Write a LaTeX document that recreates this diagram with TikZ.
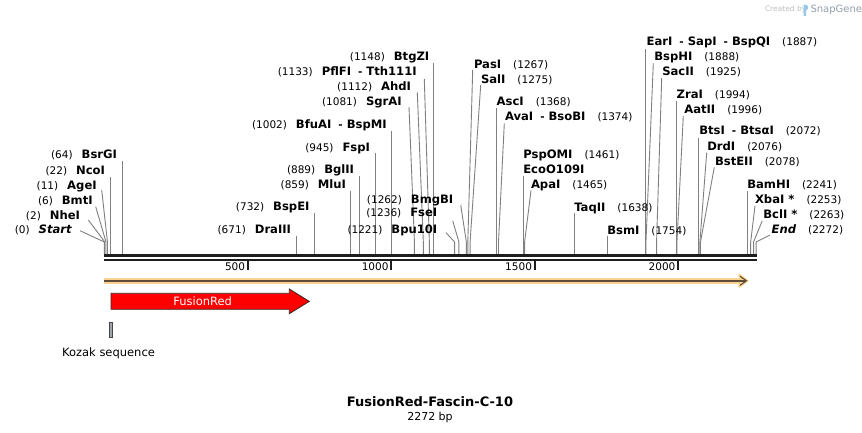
\documentclass[tikz,border=0pt]{standalone}
\usepackage{fontspec}
\setmainfont{DejaVu Sans}
\usetikzlibrary{arrows.meta}
\definecolor{cutgray}{RGB}{128,128,128}
\definecolor{seqblack}{RGB}{30,30,30}
\definecolor{orfband}{RGB}{249,212,145}
\definecolor{orfline}{RGB}{92,76,56}
\definecolor{kozakfill}{RGB}{160,164,171}
\definecolor{kozakline}{RGB}{70,70,70}
\definecolor{redline}{RGB}{60,40,40}
\definecolor{credgray}{RGB}{190,190,190}
\definecolor{snapgray}{RGB}{150,160,170}
\definecolor{logoblue}{RGB}{150,200,235}
\newcommand\enz[1]{{\fontsize{11.6}{13}\selectfont\bfseries #1}}
\newcommand\bpn[1]{{\fontsize{10.5}{12}\selectfont #1}}
\newcommand\ensep{\hspace{7pt}\bpn{-}\hspace{4pt}}
% site with a bent connector: name, bp, start x, start y
\newcommand\dsite[4]{%
  \coordinate (#1s) at (#3,#4);
  \coordinate (#1k) at ({104.3+0.2869*#2},242);
  \coordinate (#1b) at ({104.3+0.2869*#2},254.3);
  \draw[cut] (#1s) -- (#1k) -- (#1b);}
% site with a straight connector: name, bp, start y
\newcommand\vsite[3]{%
  \coordinate (#1s) at ({104.3+0.2869*#2},#3);
  \coordinate (#1b) at ({104.3+0.2869*#2},254.3);
  \draw[cut] (#1s) -- (#1b);}
% labels: name, x, baseline y, bp, enzyme text
\newcommand\llab[5]{\node[lab,anchor=base east] (#1) at (#2,#3) {\bpn{(#4)}\hspace{9pt}\enz{#5}};}
\newcommand\rlab[5]{\node[lab,anchor=base west] (#1) at (#2,#3) {\enz{#5}\hspace{12pt}\bpn{(#4)}};}
\begin{document}
\begin{tikzpicture}[x=1pt,y=-1pt,
  lab/.style={inner sep=0pt,outer sep=0pt},
  cut/.style={draw=cutgray,line width=0.9pt},
  seqline/.style={draw=seqblack,line width=2.6pt},
  tickmark/.style={draw=seqblack,line width=1.8pt},
  ticklab/.style={inner sep=0pt,anchor=base east,font=\fontsize{10.5}{12}\selectfont}]
\useasboundingbox (0,0) rectangle (862,433);
\fill[white] (0,0) rectangle (862,433);

% credit
\node[lab,anchor=base west,text=credgray,font=\fontsize{7.5}{9}\selectfont] (cred) at (765,12) {Created by};
\fill[logoblue] (803.5,16) -- (803.5,4.5) .. controls (808.5,4) and (810,8.5) .. (806.2,10.5) -- (806.2,16) -- cycle;
\node[lab,anchor=base west,text=snapgray,font=\fontsize{10}{12}\selectfont] (snap) at (810.5,12.5) {SnapGene};

% cut site connectors (left side)
\dsite{Start}{0}{80}{230.7}
\dsite{NheI}{2}{88.3}{220}
\dsite{BmtI}{6}{95.7}{206.7}
\dsite{AgeI}{11}{101.7}{190}
\vsite{NcoI}{22}{176.5}
\vsite{BsrGI}{64}{161}
\vsite{DraIII}{671}{235.5}
\vsite{BspEI}{732}{213}
\vsite{MluI}{859}{190.5}
\vsite{BglII}{889}{175.5}
\vsite{FspI}{945}{153.3}
\vsite{BfuAI}{1002}{131}
\dsite{SgrAI}{1081}{409}{107}
\dsite{AhdI}{1112}{417.3}{92.5}
\dsite{PflFI}{1133}{424.3}{79}
\vsite{BtgZI}{1148}{63.3}
\dsite{BpuI}{1221}{446}{232.7}
\dsite{FseI}{1236}{452.7}{220.7}
\dsite{BmgBI}{1262}{460.7}{205}
% (right side)
\dsite{PasI}{1267}{472.7}{70}
\dsite{SalI}{1275}{480.7}{85}
\vsite{AscI}{1368}{108.3}
\dsite{AvaI}{1374}{504.3}{123.3}
\vsite{EcoO}{1461}{176}
\dsite{ApaI}{1465}{531}{190.5}
\vsite{TaqII}{1638}{213.3}
\vsite{BsmI}{1754}{235.7}
\vsite{EarI}{1887}{49}
\dsite{BspHI}{1888}{653.3}{63.3}
\dsite{SacII}{1925}{661.7}{78}
\vsite{ZraI}{1994}{100.7}
\dsite{AatII}{1996}{683.3}{116}
\vsite{BtsI}{2072}{138.3}
\dsite{DrdI}{2076}{706.7}{152.7}
\dsite{BstEII}{2078}{714.3}{167.3}
\vsite{BamHI}{2241}{190.7}
\dsite{XbaI}{2253}{755}{205.7}
\dsite{BclI}{2263}{762.3}{220.7}
\dsite{End}{2272}{770}{235}

% labels (left side)
\llab{lStart}{71.7}{233.3}{0}{\itshape Start}
\llab{lNheI}{80}{219}{2}{NheI}
\llab{lBmtI}{92.7}{204}{6}{BmtI}
\llab{lAgeI}{96.7}{189}{11}{AgeI}
\llab{lNcoI}{105}{174.3}{22}{NcoI}
\llab{lBsrGI}{117}{158}{64}{BsrGI}
\llab{lDraIII}{291}{233.3}{671}{DraIII}
\llab{lBspEI}{309.5}{210.7}{732}{BspEI}
\llab{lMluI}{346}{188.3}{859}{MluI}
\llab{lBglII}{354}{173.3}{889}{BglII}
\llab{lFspI}{370}{151}{945}{FspI}
\llab{lBfuAI}{386.7}{128.3}{1002}{BfuAI\ensep BspMI}
\llab{lSgrAI}{401.7}{105.3}{1081}{SgrAI}
\llab{lAhdI}{411}{90.7}{1112}{AhdI}
\llab{lPflFI}{416.7}{76}{1133}{PflFI\ensep Tth111I}
\llab{lBtgZI}{429.3}{60.7}{1148}{BtgZI}
\llab{lBpuI}{437.3}{233.3}{1221}{Bpu10I}
\llab{lFseI}{437.3}{216.7}{1236}{FseI}
\llab{lBmgBI}{453.3}{203.3}{1262}{BmgBI}
% labels (right side)
\rlab{lPasI}{474}{68.3}{1267}{PasI}
\rlab{lSalI}{481}{83.3}{1275}{SalI}
\rlab{lAscI}{496.7}{105.7}{1368}{AscI}
\rlab{lAvaI}{505}{120.7}{1374}{AvaI\ensep BsoBI}
\rlab{lPspOMI}{523.3}{158.3}{1461}{PspOMI}
\node[lab,anchor=base west] (lEcoO) at (523.3,173.3) {\enz{EcoO109I}};
\rlab{lApaI}{531}{188.3}{1465}{ApaI}
\rlab{lTaqII}{574.3}{211}{1638}{TaqII}
\rlab{lBsmI}{607.3}{234}{1754}{BsmI}
\rlab{lEarI}{646.7}{46}{1887}{EarI\ensep SapI\ensep BspQI}
\rlab{lBspHI}{654.3}{60.7}{1888}{BspHI}
\rlab{lSacII}{662.3}{75.7}{1925}{SacII}
\rlab{lZraI}{676.7}{98.3}{1994}{ZraI}
\rlab{lAatII}{684.3}{113.3}{1996}{AatII}
\rlab{lBtsI}{699.3}{135}{2072}{BtsI\ensep BtsαI}
\rlab{lDrdI}{707.3}{150}{2076}{DrdI}
\rlab{lBstEII}{715}{165}{2078}{BstEII}
\rlab{lBamHI}{747.3}{188.3}{2241}{BamHI}
\rlab{lXbaI}{755}{203.3}{2253}{XbaI *}
\rlab{lBclI}{763.3}{218.3}{2263}{BclI *}
\rlab{lEnd}{771.7}{233.3}{2272}{\itshape End}

% sequence line
\coordinate (seqL1) at (104,255.6);
\coordinate (seqR1) at (757,255.6);
\coordinate (seqL2) at (104,259.8);
\coordinate (seqR2) at (757,259.8);
\draw[seqline] (seqL1) -- (seqR1);
\draw[seqline] (seqL2) -- (seqR2);

% ticks
\foreach \v/\nm in {500/t500,1000/t1000,1500/t1500,2000/t2000}{
  \coordinate (\nm a) at ({104.3+0.2869*\v},261);
  \coordinate (\nm b) at ({104.3+0.2869*\v},269.5);
  \draw[tickmark] (\nm a) -- (\nm b);
  \node[ticklab] (\nm l) at ({104.3+0.2869*\v-2.5},270.3) {\v};
}

% ORF arrow (orange)
\coordinate (orfA) at (104.4,280.8);
\coordinate (orfB) at (746.5,280.8);
\draw[orfband,line width=6pt] (orfA) -- ([xshift=-2pt]orfB);
\draw[orfband,line width=3pt,line join=miter] ([xshift=-8pt,yshift=-6pt]orfB) -- (orfB) -- ([xshift=-8pt,yshift=6pt]orfB);
\draw[orfline,line width=1.6pt] (orfA) -- ([xshift=-1pt]orfB);
\draw[orfline,line width=1.1pt] ([xshift=-6.5pt,yshift=-4.5pt]orfB) -- (orfB) -- ([xshift=-6.5pt,yshift=4.5pt]orfB);

% FusionRed feature
\draw[fill=red,draw=redline,line width=0.8pt]
  (111,293.3) -- (289.3,293.3) -- (289.3,289) -- (309.3,301.4) -- (289.3,313.7) -- (289.3,309.3) -- (111,309.3) -- cycle;
\node[lab,text=white,font=\fontsize{11.5}{13}\selectfont] (fr) at (202.7,301.3) {FusionRed};

% Kozak sequence
\draw[fill=kozakfill,draw=kozakline,line width=0.7pt] (109.4,322.3) rectangle (112.6,337.7);
\node[lab,anchor=base,font=\fontsize{11.5}{13}\selectfont] (koz) at (108.5,356) {Kozak sequence};

% title
\node[lab,anchor=base,font=\fontsize{13}{15}\selectfont\bfseries] (title) at (430,406.5) {FusionRed-Fascin-C-10};
\node[lab,anchor=base,font=\fontsize{11}{13}\selectfont] (len) at (430,420.5) {2272 bp};
\end{tikzpicture}
\end{document}
